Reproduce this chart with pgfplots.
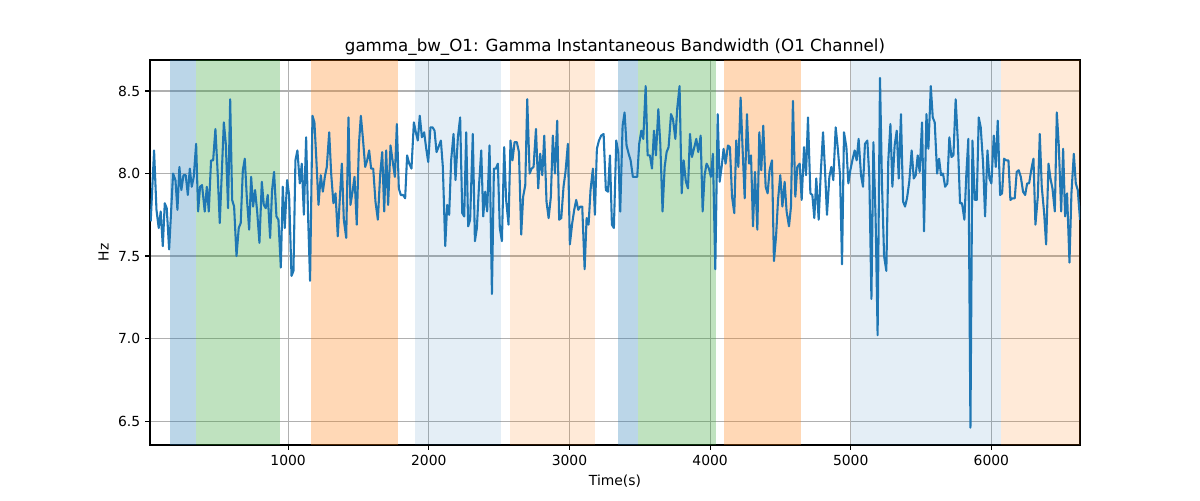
\documentclass[border=0pt]{standalone}
\usepackage{pgfplots}
\pgfplotsset{compat=1.18}
\usepackage{fontspec}
\setmainfont{DejaVu Sans}
\definecolor{tabblue}{HTML}{1F77B4}
\definecolor{tabgreen}{HTML}{2CA02C}
\definecolor{taborange}{HTML}{FF7F0E}
\definecolor{gridgray}{HTML}{B0B0B0}
\begin{document}
\begin{tikzpicture}
\useasboundingbox (0,0) rectangle (864pt,360pt);
\begin{axis}[
  at={(108pt,39.6pt)}, anchor=south west,
  scale only axis, width=669.6pt, height=277.2pt,
  xmin=18, xmax=6630, ymin=6.355, ymax=8.688,
  xtick={1000,2000,3000,4000,5000,6000},
  ytick={6.5,7.0,7.5,8.0,8.5},
  yticklabel style={/pgf/number format/.cd,fixed,fixed zerofill,precision=1},
  xticklabel style={/pgf/number format/.cd,fixed,1000 sep={}},
  /pgf/number format/assume math mode=true,
  tick align=outside, tick pos=left,
  major tick length=3.5pt,
  every tick/.style={black, line width=0.8pt},
  grid=major, grid style={gridgray, line width=0.8pt},
  axis line style={black, line width=0.8pt},
  tick label style={font=\fontsize{10}{12}\selectfont},
  label style={font=\fontsize{10}{12}\selectfont},
  title style={font=\fontsize{12}{14}\selectfont, yshift=-6.5pt},
  title={gamma\_bw\_O1: Gamma Instantaneous Bandwidth (O1 Channel)},
  xlabel={Time(s)}, ylabel={Hz},
]
\addplot[fill=tabblue, fill opacity=0.3, draw=none] coordinates {(161,6.355) (346,6.355) (346,8.688) (161,8.688)} -- cycle;
\addplot[fill=tabgreen, fill opacity=0.3, draw=none] coordinates {(346,6.355) (943,6.355) (943,8.688) (346,8.688)} -- cycle;
\addplot[fill=taborange, fill opacity=0.3, draw=none] coordinates {(1163,6.355) (1782,6.355) (1782,8.688) (1163,8.688)} -- cycle;
\addplot[fill=tabblue, fill opacity=0.12, draw=none] coordinates {(1903,6.355) (2515,6.355) (2515,8.688) (1903,8.688)} -- cycle;
\addplot[fill=taborange, fill opacity=0.16, draw=none] coordinates {(2579,6.355) (3184,6.355) (3184,8.688) (2579,8.688)} -- cycle;
\addplot[fill=tabblue, fill opacity=0.3, draw=none] coordinates {(3347,6.355) (3489,6.355) (3489,8.688) (3347,8.688)} -- cycle;
\addplot[fill=tabgreen, fill opacity=0.3, draw=none] coordinates {(3489,6.355) (4044,6.355) (4044,8.688) (3489,8.688)} -- cycle;
\addplot[fill=taborange, fill opacity=0.3, draw=none] coordinates {(4101,6.355) (4649,6.355) (4649,8.688) (4101,8.688)} -- cycle;
\addplot[fill=tabblue, fill opacity=0.12, draw=none] coordinates {(5004,6.355) (6071,6.355) (6071,8.688) (5004,8.688)} -- cycle;
\addplot[fill=taborange, fill opacity=0.16, draw=none] coordinates {(6071,6.355) (6640,6.355) (6640,8.688) (6071,8.688)} -- cycle;
\addplot[tabblue, line width=1.5pt, line join=round, mark=none] table {
23 7.71
47 8.14
64 7.78
80 7.67
94 7.77
109 7.56
123 7.82
137 7.79
154 7.54
182 8.00
199 7.96
213 7.78
227 8.04
241 7.90
256 7.99
272 7.99
287 7.87
301 8.03
315 7.92
329 7.98
346 8.18
360 7.77
374 7.92
388 7.93
407 7.77
422 7.92
436 7.77
452 8.08
467 8.08
483 8.27
497 8.04
514 7.70
543 8.31
557 8.18
573 7.79
588 8.45
602 7.84
616 7.80
633 7.50
649 7.67
663 7.70
678 8.02
692 8.09
706 7.86
723 7.66
737 7.98
751 7.80
765 7.90
780 7.77
796 7.58
813 7.95
827 7.81
841 7.79
855 7.87
872 7.61
886 7.90
900 8.01
917 7.74
931 7.72
948 7.43
962 7.92
976 7.67
993 7.96
1007 7.87
1024 7.38
1038 7.41
1052 8.08
1066 8.14
1083 7.94
1097 8.06
1112 7.75
1128 8.22
1142 7.74
1156 7.35
1173 8.35
1187 8.31
1201 8.08
1216 7.81
1232 7.99
1247 7.89
1261 7.98
1275 8.04
1292 8.25
1306 8.00
1322 7.82
1337 7.88
1353 7.62
1367 7.84
1382 8.06
1396 7.72
1413 7.61
1429 8.34
1443 7.81
1458 7.89
1472 7.98
1488 7.69
1503 8.17
1517 8.35
1531 8.22
1548 8.04
1562 8.08
1576 8.14
1590 8.03
1605 8.03
1621 7.83
1638 7.72
1654 7.99
1669 8.13
1683 7.77
1697 8.14
1711 7.81
1728 8.17
1744 8.07
1759 7.98
1773 8.30
1787 7.91
1801 7.87
1818 7.87
1832 7.85
1846 8.11
1861 8.06
1877 8.03
1894 8.31
1908 8.25
1922 8.20
1936 8.35
1951 8.22
1967 8.25
1982 8.15
1996 8.07
2012 8.28
2027 8.28
2041 8.26
2055 8.13
2069 8.16
2086 8.20
2100 8.04
2117 7.56
2131 7.81
2145 7.75
2159 8.08
2176 8.24
2190 7.96
2207 8.22
2223 8.34
2238 7.76
2252 7.74
2266 8.25
2280 7.68
2294 7.72
2313 8.24
2328 7.59
2342 7.67
2356 7.91
2373 8.14
2387 7.74
2401 7.89
2415 7.77
2432 8.17
2449 7.27
2463 8.03
2477 8.03
2491 8.06
2505 7.67
2520 7.59
2536 8.16
2550 7.84
2567 7.69
2581 8.20
2595 8.08
2610 8.19
2626 8.19
2641 8.13
2657 7.63
2671 7.86
2686 7.93
2700 8.45
2717 8.00
2731 8.03
2745 8.04
2762 8.27
2778 7.91
2792 8.12
2807 7.99
2821 8.23
2837 7.83
2852 7.73
2868 7.86
2882 8.23
2897 8.00
2913 8.32
2927 7.72
2942 7.73
2958 7.92
2972 8.01
2989 8.18
3003 7.57
3020 7.70
3034 7.78
3048 7.84
3063 7.78
3077 7.80
3091 7.80
3108 7.42
3122 7.73
3136 7.69
3150 7.90
3167 8.03
3181 7.75
3195 8.15
3210 8.20
3226 8.23
3243 8.24
3259 7.90
3274 7.89
3288 8.11
3302 7.69
3316 7.67
3333 8.20
3347 8.13
3361 7.77
3378 8.29
3392 8.37
3406 8.17
3421 8.12
3435 8.08
3451 7.98
3466 7.98
3482 7.98
3496 8.18
3511 8.26
3525 8.21
3542 8.53
3556 8.11
3572 8.11
3587 8.03
3601 8.26
3615 8.11
3632 8.39
3646 8.18
3662 7.77
3677 8.04
3691 8.13
3705 8.16
3722 8.36
3736 8.33
3753 8.21
3767 8.40
3783 8.53
3798 7.88
3812 8.08
3828 7.95
3843 7.91
3857 8.24
3871 8.10
3888 8.16
3902 8.21
3916 8.13
3933 8.23
3947 7.77
3961 7.99
3975 8.06
3992 8.03
4006 7.98
4020 8.12
4037 7.42
4054 8.36
4068 7.95
4082 8.04
4096 8.15
4110 8.06
4127 8.17
4141 8.16
4156 7.86
4172 7.76
4186 8.20
4201 8.04
4217 8.46
4231 8.15
4246 7.85
4262 8.36
4277 8.06
4291 8.11
4305 7.68
4319 8.01
4336 7.66
4350 8.25
4364 8.02
4378 8.29
4395 7.92
4409 7.88
4423 8.02
4440 8.08
4454 7.47
4469 7.62
4483 7.84
4499 7.99
4514 7.80
4530 7.95
4544 7.77
4561 7.68
4575 7.80
4589 8.44
4606 7.86
4620 8.04
4637 8.06
4651 7.84
4668 8.16
4682 7.99
4696 8.34
4713 7.88
4727 7.87
4741 7.73
4755 7.97
4772 7.72
4786 7.99
4803 8.25
4817 8.02
4831 7.75
4848 7.98
4862 8.04
4876 7.96
4893 8.28
4907 8.16
4924 7.99
4938 7.45
4952 8.25
4969 8.16
4983 7.94
4997 8.02
5014 8.09
5028 8.14
5042 8.08
5056 8.21
5073 7.99
5087 7.92
5101 8.18
5118 8.20
5132 7.98
5147 7.24
5161 8.19
5177 7.72
5191 7.02
5208 8.58
5222 7.94
5237 7.50
5253 7.41
5267 8.08
5282 8.30
5296 7.92
5312 8.17
5327 8.26
5341 7.97
5357 8.36
5372 7.83
5386 7.80
5400 7.85
5416 7.95
5433 8.14
5448 7.97
5462 7.99
5476 8.11
5490 8.01
5507 8.31
5521 7.65
5538 8.36
5552 8.15
5569 8.53
5583 8.34
5597 8.31
5614 8.00
5628 8.09
5642 7.99
5656 8.00
5671 7.92
5687 7.94
5701 8.22
5716 8.10
5730 8.11
5746 8.45
5761 8.20
5777 7.82
5791 7.82
5808 7.72
5822 8.00
5836 8.21
5851 6.46
5865 8.20
5882 7.84
5896 7.84
5910 8.34
5924 8.28
5941 8.06
5955 7.74
5972 8.14
5986 7.97
6000 7.94
6017 8.23
6031 8.04
6045 8.32
6062 7.87
6076 7.88
6090 8.09
6104 8.08
6121 8.08
6135 7.84
6149 7.85
6166 7.85
6180 8.01
6194 8.02
6209 7.98
6225 7.89
6240 7.87
6254 7.94
6268 7.94
6285 8.03
6299 8.09
6313 7.69
6330 7.86
6344 8.24
6358 7.92
6375 7.76
6389 7.57
6406 8.06
6420 7.97
6434 7.91
6451 7.77
6465 8.37
6479 8.17
6496 7.77
6510 8.15
6524 7.74
6538 7.88
6555 7.46
6569 7.88
6586 8.12
6600 7.94
6614 7.90
6630 7.72
};
\end{axis}
\end{tikzpicture}
\end{document}
